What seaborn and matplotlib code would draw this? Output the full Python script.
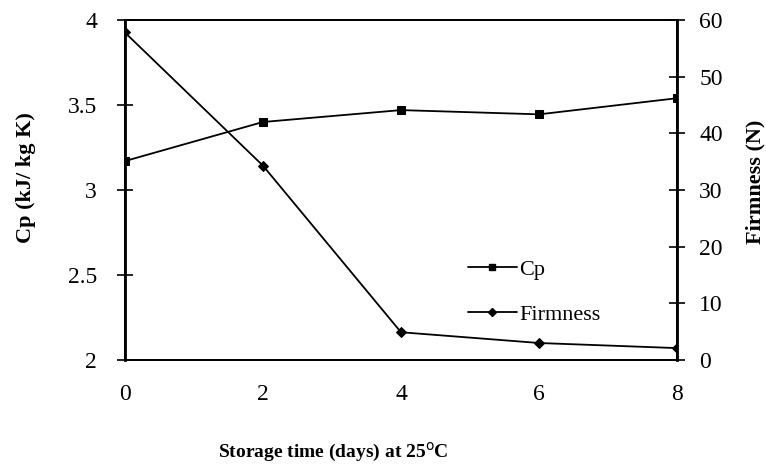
import matplotlib
matplotlib.use("Agg")
import matplotlib.pyplot as plt
import seaborn as sns
import pandas as pd
from matplotlib.lines import Line2D

days = [0, 2, 4, 6, 8]
cp = [3.17, 3.40, 3.47, 3.445, 3.54]
firmness = [57.8, 34.3, 4.9, 3.0, 2.1]
x_ticks = [0, 2, 4, 6, 8]
cp_ticks = [2, 2.5, 3, 3.5, 4]
cp_tick_labels = ["2", "2.5", "3", "3.5", "4"]
firm_ticks = [0, 10, 20, 30, 40, 50, 60]

sns.set_theme(style="white")
plt.rcParams["font.family"] = ["Liberation Serif", "DejaVu Serif"]
plt.rcParams["text.color"] = "black"
plt.rcParams["axes.labelcolor"] = "black"

df = pd.DataFrame({"days": days, "Cp": cp, "Firmness": firmness})

fig = plt.figure(figsize=(7.66, 4.65), dpi=100)
ax = fig.add_axes([0.163, 0.2258, 0.721, 0.7312])
ax2 = ax.twinx()

sns.lineplot(data=df, x="days", y="Cp", ax=ax, color="black", lw=1.3,
             marker="s", markersize=6, markeredgecolor="black")
sns.lineplot(data=df, x="days", y="Firmness", ax=ax2, color="black", lw=1.3,
             marker="D", markersize=5, markeredgecolor="black")

ax.set_xlim(0, 8)
ax.set_ylim(2, 4)
ax2.set_ylim(0, 60)
ax.set_xticks(x_ticks)
ax.set_yticks(cp_ticks)
ax.set_yticklabels(cp_tick_labels)
ax2.set_yticks(firm_ticks)

for a in (ax, ax2):
    for s in a.spines.values():
        s.set_color("black")
        s.set_linewidth(1.3)
    a.tick_params(direction="inout", length=12, width=1.2, colors="black",
                  labelcolor="black", labelsize=17)
ax.spines["left"].set_linewidth(2)
ax2.spines["right"].set_linewidth(2)
ax.tick_params(axis="x", pad=11)
ax.tick_params(axis="y", pad=14)
ax2.tick_params(axis="y", pad=10)

ax.set_xlabel("Storage time (days) at 25$^{\\mathrm{o}}$C", fontsize=14,
              fontweight="bold")
ax.xaxis.set_label_coords(0.377, -0.238)
ax.set_ylabel("Cp (kJ/ kg K)", fontsize=16, fontweight="bold")
ax.yaxis.set_label_coords(-0.161, 0.538)
ax2.set_ylabel("Firmness (N)", fontsize=16, fontweight="bold")
ax2.yaxis.set_label_coords(1.123, 0.524)

handles = [
    Line2D([], [], color="black", lw=1.3, marker="s", markersize=5),
    Line2D([], [], color="black", lw=1.3, marker="D", markersize=4.5),
]
ax2.legend(handles, ["Cp", "Firmness"], loc="center left",
           bbox_to_anchor=(0.585, 0.2), frameon=False, fontsize=16,
           handlelength=2.2, handletextpad=0.1, labelspacing=1.1,
           labelcolor="black")

fig.savefig("out.png", dpi=100)
